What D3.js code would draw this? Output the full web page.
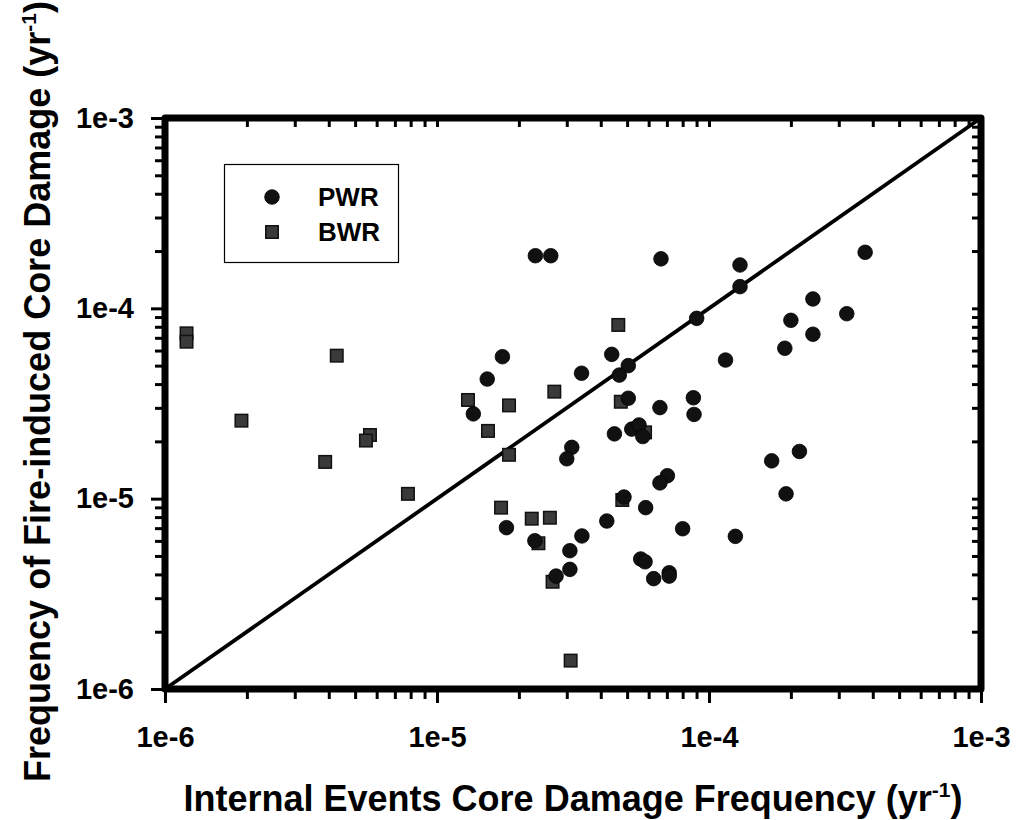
<!DOCTYPE html>
<html>
<head>
<meta charset="utf-8">
<script src="https://cdn.jsdelivr.net/npm/d3@7"></script>
<style>
  html, body { margin: 0; padding: 0; background: #fff; }
  svg { display: block; }
  text { font-family: Arial, "Liberation Sans", sans-serif; font-weight: bold; fill: #000; }
</style>
</head>
<body>
<svg id="chart" width="1017" height="820"></svg>
<script>
// ---- Data ----
const pwrX = [2.30e-5, 2.62e-5, 6.66e-5, 3.75e-4, 1.30e-4, 1.30e-4, 9.01e-5, 2.41e-4, 2.00e-4, 3.21e-4,
              2.41e-4, 1.90e-4, 1.15e-4, 1.74e-5, 4.39e-5, 5.05e-5, 4.68e-5, 3.40e-5, 1.53e-5, 1.36e-5,
              5.05e-5, 6.60e-5, 8.76e-5, 8.81e-5, 4.49e-5, 5.20e-5, 5.53e-5, 5.71e-5, 3.13e-5, 3.00e-5,
              7.03e-5, 6.60e-5, 2.15e-4, 1.70e-4, 1.92e-4, 1.80e-5, 2.29e-5, 3.41e-5, 3.08e-5, 3.08e-5,
              2.74e-5, 4.21e-5, 4.87e-5, 5.85e-5, 8.00e-5, 1.25e-4, 5.61e-5, 5.82e-5, 6.26e-5, 7.14e-5,
              7.14e-5];
const pwrY = [1.89e-4, 1.89e-4, 1.82e-4, 1.97e-4, 1.69e-4, 1.30e-4, 8.86e-5, 1.12e-4, 8.65e-5, 9.37e-5,
              7.31e-5, 6.17e-5, 5.35e-5, 5.57e-5, 5.73e-5, 5.00e-5, 4.46e-5, 4.56e-5, 4.25e-5, 2.79e-5,
              3.37e-5, 3.01e-5, 3.39e-5, 2.77e-5, 2.19e-5, 2.32e-5, 2.44e-5, 2.12e-5, 1.86e-5, 1.62e-5,
              1.32e-5, 1.21e-5, 1.77e-5, 1.58e-5, 1.06e-5, 7.04e-6, 6.01e-6, 6.37e-6, 5.33e-6, 4.25e-6,
              3.92e-6, 7.63e-6, 1.02e-5, 8.97e-6, 6.95e-6, 6.34e-6, 4.82e-6, 4.66e-6, 3.80e-6, 4.08e-6,
              3.92e-6];
const bwrX = [1.20e-6, 1.20e-6, 4.28e-6, 1.91e-6, 5.67e-6, 5.48e-6, 3.88e-6, 7.82e-6, 4.64e-5, 2.70e-5,
              1.30e-5, 1.84e-5, 1.54e-5, 1.84e-5, 4.74e-5, 5.82e-5, 1.72e-5, 2.23e-5, 2.60e-5, 2.36e-5,
              2.66e-5, 4.80e-5, 3.10e-5];
const bwrY = [7.39e-5, 6.68e-5, 5.64e-5, 2.57e-5, 2.16e-5, 2.02e-5, 1.56e-5, 1.06e-5, 8.18e-5, 3.65e-5,
              3.30e-5, 3.09e-5, 2.27e-5, 1.70e-5, 3.23e-5, 2.23e-5, 8.97e-6, 7.85e-6, 7.94e-6, 5.83e-6,
              3.66e-6, 9.84e-6, 1.41e-6];
const seriesNames = ["PWR", "BWR"];
const majorTicks = [1e-6, 1e-5, 1e-4, 1e-3];
const tickLabels = ["1e-6", "1e-5", "1e-4", "1e-3"];
const diagonal = [1e-6, 1e-3];
const xTitle = "Internal Events Core Damage Frequency (yr";
const yTitle = "Frequency of Fire-induced Core Damage (yr";
const supText = "-1";

// ---- Layout ----
const svg = d3.select("#chart");
const L = 165, R = 981, T = 118, B = 689;
const x = d3.scaleLog().domain([1e-6, 1e-3]).range([L, R]);
const y = d3.scaleLog().domain([1e-6, 1e-3]).range([B, T]);
const minorTicks = x.ticks().filter(v => !majorTicks.some(m => Math.abs(m - v) / m < 1e-9));
const labelOf = v => tickLabels[majorTicks.findIndex(m => Math.abs(m - v) / m < 1e-9)];

svg.append("rect").attr("width", 1017).attr("height", 820).attr("fill", "#fff");

function styleAxis(g) {
  g.select(".domain").remove();
  g.selectAll(".tick line").attr("stroke", "#000").attr("stroke-width", 3);
}
function styleLabels(g) {
  g.selectAll("text").attr("font-size", 29).attr("font-weight", "bold").attr("fill", "#000")
    .attr("font-family", "Arial, 'Liberation Sans', sans-serif");
}

// Bottom (outward)
svg.append("g").attr("transform", `translate(0,${B})`)
  .call(d3.axisBottom(x).tickValues(minorTicks).tickSize(10).tickFormat(""))
  .call(styleAxis);
svg.append("g").attr("transform", `translate(0,${B})`)
  .call(d3.axisBottom(x).tickValues(majorTicks).tickSize(14).tickPadding(23).tickFormat(labelOf))
  .call(styleAxis).call(styleLabels);
// Left (outward)
svg.append("g").attr("transform", `translate(${L},0)`)
  .call(d3.axisLeft(y).tickValues(minorTicks).tickSize(10).tickFormat(""))
  .call(styleAxis);
svg.append("g").attr("transform", `translate(${L},0)`)
  .call(d3.axisLeft(y).tickValues(majorTicks).tickSize(14).tickPadding(17).tickFormat(labelOf))
  .call(styleAxis).call(styleLabels);
// Top (inward)
svg.append("g").attr("transform", `translate(0,${T})`)
  .call(d3.axisTop(x).tickValues(x.ticks()).tickSize(-9).tickFormat(""))
  .call(styleAxis);
// Right (inward)
svg.append("g").attr("transform", `translate(${R},0)`)
  .call(d3.axisRight(y).tickValues(y.ticks()).tickSize(-9).tickFormat(""))
  .call(styleAxis);

// Frame
svg.append("rect").attr("x", L).attr("y", T).attr("width", R - L).attr("height", B - T)
  .attr("fill", "none").attr("stroke", "#000").attr("stroke-width", 7).attr("stroke-linejoin", "round");

// Diagonal 1:1 line
svg.append("line")
  .attr("x1", x(diagonal[0])).attr("y1", y(diagonal[0]))
  .attr("x2", x(diagonal[1])).attr("y2", y(diagonal[1]))
  .attr("stroke", "#000").attr("stroke-width", 3.8);

// Points
const pwr = pwrX.map((v, i) => [v, pwrY[i]]);
const bwr = bwrX.map((v, i) => [v, bwrY[i]]);
const sq = 12.5;
svg.append("g").selectAll("rect").data(bwr).join("rect")
  .attr("x", d => x(d[0]) - sq / 2).attr("y", d => y(d[1]) - sq / 2)
  .attr("width", sq).attr("height", sq)
  .attr("fill", "#3a3a3a").attr("stroke", "#111").attr("stroke-width", 1.5);
svg.append("g").selectAll("circle").data(pwr).join("circle")
  .attr("cx", d => x(d[0])).attr("cy", d => y(d[1])).attr("r", 7.3)
  .attr("fill", "#111").attr("stroke", "#000").attr("stroke-width", 0.8);

// Legend
const lg = svg.append("g");
lg.append("rect").attr("x", 224.5).attr("y", 164.5).attr("width", 174).attr("height", 98)
  .attr("fill", "#fff").attr("stroke", "#000").attr("stroke-width", 1.2);
lg.append("circle").attr("cx", 272).attr("cy", 197).attr("r", 7.3).attr("fill", "#111").attr("stroke", "#000").attr("stroke-width", 0.8);
lg.append("rect").attr("x", 272 - sq / 2).attr("y", 232 - sq / 2).attr("width", sq).attr("height", sq)
  .attr("fill", "#3a3a3a").attr("stroke", "#111").attr("stroke-width", 1.5);
lg.append("text").attr("x", 318).attr("y", 206).attr("font-size", 26).text(seriesNames[0]);
lg.append("text").attr("x", 318).attr("y", 241).attr("font-size", 26).text(seriesNames[1]);

// Axis titles
const xt = svg.append("text").attr("x", (L + R) / 2).attr("y", 811).attr("text-anchor", "middle").attr("font-size", 36);
xt.append("tspan").text(xTitle);
xt.append("tspan").attr("font-size", 21).attr("dy", -14).text(supText);
xt.append("tspan").attr("dy", 14).text(")");

const yt = svg.append("text").attr("transform", `translate(50,${(T + B) / 2 - 12}) rotate(-90)`)
  .attr("text-anchor", "middle").attr("font-size", 36);
yt.append("tspan").text(yTitle);
yt.append("tspan").attr("font-size", 21).attr("dy", -14).text(supText);
yt.append("tspan").attr("dy", 14).text(")");
</script>
</body>
</html>
